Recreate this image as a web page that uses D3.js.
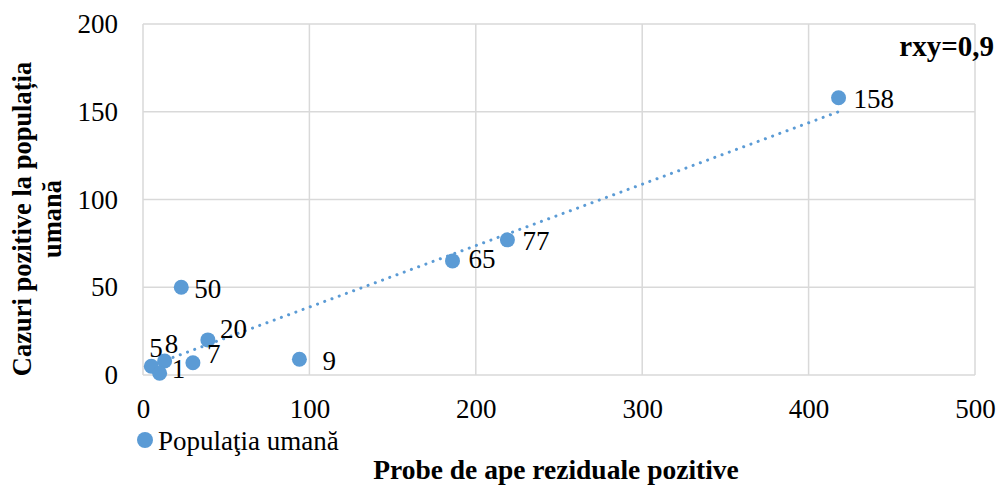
<!DOCTYPE html>
<html>
<head>
<meta charset="utf-8">
<script src="https://cdn.jsdelivr.net/npm/d3@7"></script>
<style>
  body { margin: 0; background: #fff; }
  text { font-family: "Liberation Serif", "Times New Roman", serif; fill: #000; }
</style>
</head>
<body>
<div id="chart"></div>
<script>
// probe de ape reziduale pozitive (x) vs cazuri pozitive (y)
let probe = [5, 13, 10, 23, 30, 39, 94, 186, 219, 418]
let cazuri = [5, 8, 1, 50, 7, 20, 9, 65, 77, 158]
let xTicks = [0, 100, 200, 300, 400, 500]
let yTicks = [0, 50, 100, 150, 200]
let seriesName = 'Populaţia umană'
let rxy = 'rxy=0,9'

var width = 998, height = 486
var margin = { top: 24, right: 23, bottom: 111, left: 143 }
var blue = '#5b9bd5', grid = '#d9d9d9'

// label offsets for the few labels moved by hand in the original
var labelShift = { 0: [-17, -20], 1: [-15, -18], 2: [-3, -6], 3: [-2, 0], 4: [-1, -10], 5: [-3, -12], 6: [8, 0], 7: [1, -3] }

let points = probe.map(function (d, i) { return [d, cazuri[i]] })

let x = d3.scaleLinear().domain([0, 500]).range([margin.left, width - margin.right])
let y = d3.scaleLinear().domain([0, 200]).range([height - margin.bottom, margin.top])

let svg = d3.select('#chart').append('svg')
    .attr('width', width)
    .attr('height', height)

// grid
svg.append('g').selectAll('line.v')
    .data(xTicks).enter().append('line')
    .attr('x1', d => x(d)).attr('x2', d => x(d))
    .attr('y1', y(0)).attr('y2', y(200))
    .attr('stroke', grid).attr('stroke-width', 1.5)

svg.append('g').selectAll('line.h')
    .data(yTicks).enter().append('line')
    .attr('x1', x(0)).attr('x2', x(500))
    .attr('y1', d => y(d)).attr('y2', d => y(d))
    .attr('stroke', grid).attr('stroke-width', 1.5)

// axes (labels only)
let xAxis = svg.append('g')
    .attr('transform', `translate(0, ${y(0)})`)
    .call(d3.axisBottom(x).tickValues(xTicks).tickSize(0).tickPadding(24))
xAxis.select('.domain').remove()
xAxis.selectAll('text').attr('font-size', 27)

let yAxis = svg.append('g')
    .attr('transform', `translate(${x(0)}, 0)`)
    .call(d3.axisLeft(y).tickValues(yTicks).tickSize(0).tickPadding(25))
yAxis.select('.domain').remove()
yAxis.selectAll('text').attr('font-size', 27)

// linear trendline (least squares)
let mx = d3.mean(probe), my = d3.mean(cazuri)
let sxy = d3.sum(points, d => (d[0] - mx) * (d[1] - my))
let sxx = d3.sum(points, d => (d[0] - mx) * (d[0] - mx))
let slope = sxy / sxx, icpt = my - slope * mx
let xs = d3.extent(probe)

svg.append('line')
    .attr('x1', x(xs[0])).attr('y1', y(icpt + slope * xs[0]))
    .attr('x2', x(xs[1])).attr('y2', y(icpt + slope * xs[1]))
    .attr('stroke', blue)
    .attr('stroke-width', 3)
    .attr('stroke-linecap', 'round')
    .attr('stroke-dasharray', '0.1 7.6')

// points
svg.append('g').selectAll('circle')
    .data(points).enter().append('circle')
    .attr('cx', d => x(d[0]))
    .attr('cy', d => y(d[1]))
    .attr('r', 7.5)
    .attr('fill', blue)

// data labels
svg.append('g').selectAll('text')
    .data(points).enter().append('text')
    .attr('x', (d, i) => x(d[0]) + 15 + (labelShift[i] ? labelShift[i][0] : 0))
    .attr('y', (d, i) => y(d[1]) + 1 + (labelShift[i] ? labelShift[i][1] : 0))
    .attr('dy', '0.35em')
    .attr('font-size', 27)
    .text(d => d[1])

// correlation note
svg.append('text')
    .attr('x', 994).attr('y', 56)
    .attr('text-anchor', 'end')
    .attr('font-size', 29)
    .attr('font-weight', 'bold')
    .text(rxy)

// legend
svg.append('circle')
    .attr('cx', 145).attr('cy', 440).attr('r', 8)
    .attr('fill', blue)
svg.append('text')
    .attr('x', 158).attr('y', 450)
    .attr('font-size', 27)
    .text(seriesName)

// axis titles
svg.append('text')
    .attr('x', 556).attr('y', 479)
    .attr('text-anchor', 'middle')
    .attr('font-size', 27.5)
    .attr('font-weight', 'bold')
    .text('Probe de ape reziduale pozitive')

let yTitle = svg.append('text')
    .attr('transform', 'translate(31, 219) rotate(-90)')
    .attr('text-anchor', 'middle')
    .attr('font-size', 26.5)
    .attr('font-weight', 'bold')
yTitle.append('tspan').attr('x', 0).attr('y', 0).text('Cazuri pozitive la populația')
yTitle.append('tspan').attr('x', 0).attr('y', 30).text('umană')
</script>
</body>
</html>
